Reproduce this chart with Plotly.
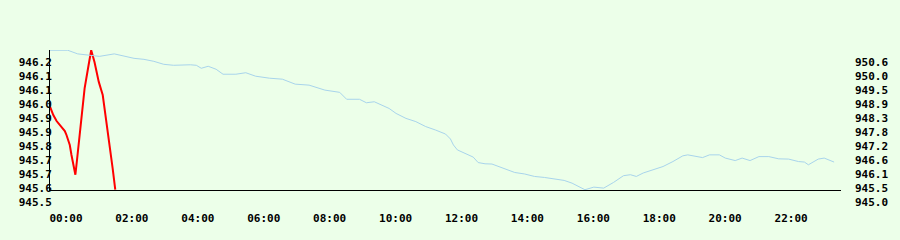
import plotly.graph_objects as go

# ---- data (hours since midnight) ----
red_hours = [0.00, 0.10, 0.20, 0.35, 0.45, 0.50, 0.60, 0.65, 0.73, 0.77, 0.82, 0.88,
             0.92, 0.97, 1.05, 1.17, 1.25, 1.35, 1.48, 1.60, 1.70, 1.80, 1.90, 1.98]
red_values = [945.939, 945.899, 945.870, 945.843, 945.822, 945.803, 945.755, 945.708,
              945.652, 945.612, 945.684, 945.771, 945.851, 945.931, 946.027, 946.138,
              946.210, 946.154, 946.058, 945.995, 945.883, 945.771, 945.644, 945.540]

blue_hours = [0.00, 0.54, 0.84, 1.20, 1.50, 1.95, 2.25, 2.55, 2.85, 3.15, 3.45, 3.75,
              4.26, 4.44, 4.59, 4.80, 5.04, 5.25, 5.64, 5.94, 6.24, 6.66, 7.05, 7.44,
              7.86, 8.34, 8.79, 9.00, 9.39, 9.60, 9.84, 10.05, 10.29, 10.50, 10.80,
              11.10, 11.40, 11.70, 12.00, 12.15, 12.24, 12.36, 12.60, 12.84, 12.99,
              13.20, 13.41, 13.65, 13.86, 14.10, 14.40, 14.70, 15.00, 15.30, 15.60,
              15.84, 16.05, 16.23, 16.50, 16.80, 17.10, 17.40, 17.61, 17.79, 18.00,
              18.30, 18.60, 18.90, 19.20, 19.35, 19.50, 19.80, 20.01, 20.31, 20.49,
              20.79, 21.00, 21.24, 21.51, 21.81, 22.11, 22.41, 22.71, 22.89, 23.01,
              23.31, 23.49, 23.79]
blue_values = [950.575, 950.575, 950.43, 950.37, 950.33, 950.43, 950.33, 950.25, 950.21,
               950.13, 950.01, 949.97, 949.99, 949.97, 949.85, 949.93, 949.81, 949.61,
               949.61, 949.67, 949.53, 949.45, 949.41, 949.21, 949.17, 948.97, 948.88,
               948.60, 948.60, 948.46, 948.50, 948.37, 948.23, 948.03, 947.83, 947.70,
               947.50, 947.36, 947.20, 947.00, 946.76, 946.56, 946.43, 946.27, 946.05,
               946.00, 945.99, 945.87, 945.76, 945.65, 945.59, 945.49, 945.45, 945.40,
               945.33, 945.22, 945.09, 944.955, 945.06, 945.02, 945.25, 945.52, 945.56,
               945.49, 945.63, 945.76, 945.89, 946.09, 946.32, 946.36, 946.32, 946.25,
               946.36, 946.36, 946.23, 946.13, 946.23, 946.13, 946.29, 946.29, 946.20,
               946.19, 946.09, 946.07, 945.96, 946.19, 946.23, 946.07]

x_tick_hours = [0, 2, 4, 6, 8, 10, 12, 14, 16, 18, 20, 22]
x_tick_labels = ["00:00", "02:00", "04:00", "06:00", "08:00", "10:00",
                 "12:00", "14:00", "16:00", "18:00", "20:00", "22:00"]

left_min, left_max = 945.54, 946.21
left_labels = ["945.5", "945.6", "945.7", "945.7", "945.8", "945.9",
               "945.9", "946.0", "946.1", "946.1", "946.2"]
right_min, right_max = 944.955, 950.575
right_labels = ["945.0", "945.5", "946.1", "946.6", "947.2", "947.8",
                "948.3", "948.9", "949.5", "950.0", "950.6"]

n = len(left_labels)
left_ticks = [left_min + (left_max - left_min) * k / (n - 1) for k in range(n)]
right_ticks = [right_min + (right_max - right_min) * k / (n - 1) for k in range(n)]

BG = "#ecffe9"
FONT = dict(family="DejaVu Sans Mono", size=11, color="black", weight="bold")

fig = go.Figure()
fig.add_trace(go.Scatter(x=blue_hours, y=blue_values, mode="lines", yaxis="y2",
                         line=dict(color="#a8d4ec", width=1), hoverinfo="skip"))
fig.add_trace(go.Scatter(x=red_hours, y=red_values, mode="lines", yaxis="y",
                         line=dict(color="#ff0000", width=2), hoverinfo="skip"))

eps_l = (left_max - left_min) * 0.002
eps_r = (right_max - right_min) * 0.002

fig.update_layout(
    width=900, height=240,
    margin=dict(l=50, r=50, t=50, b=50, pad=0),
    paper_bgcolor=BG, plot_bgcolor=BG,
    showlegend=False,
    font=FONT,
    xaxis=dict(range=[0, 24], tickvals=x_tick_hours, ticktext=x_tick_labels,
               showgrid=False, zeroline=False, showline=True, linecolor="black",
               linewidth=1, ticks="", ticklabelshift=16, ticklabelstandoff=18,
               tickfont=FONT),
    yaxis=dict(range=[left_min - eps_l, left_max + eps_l], tickvals=left_ticks,
               ticktext=left_labels, showgrid=False, zeroline=False,
               showline=True, linecolor="black", linewidth=1, ticks="",
               ticklabelshift=12, ticklabelstandoff=-5, tickfont=FONT),
    yaxis2=dict(range=[right_min - eps_r, right_max + eps_r], tickvals=right_ticks,
                ticktext=right_labels, overlaying="y", side="right",
                showgrid=False, zeroline=False, showline=False, ticks="",
                ticklabelshift=12, ticklabelstandoff=13, tickfont=FONT),
)

fig.write_html("out.html")
